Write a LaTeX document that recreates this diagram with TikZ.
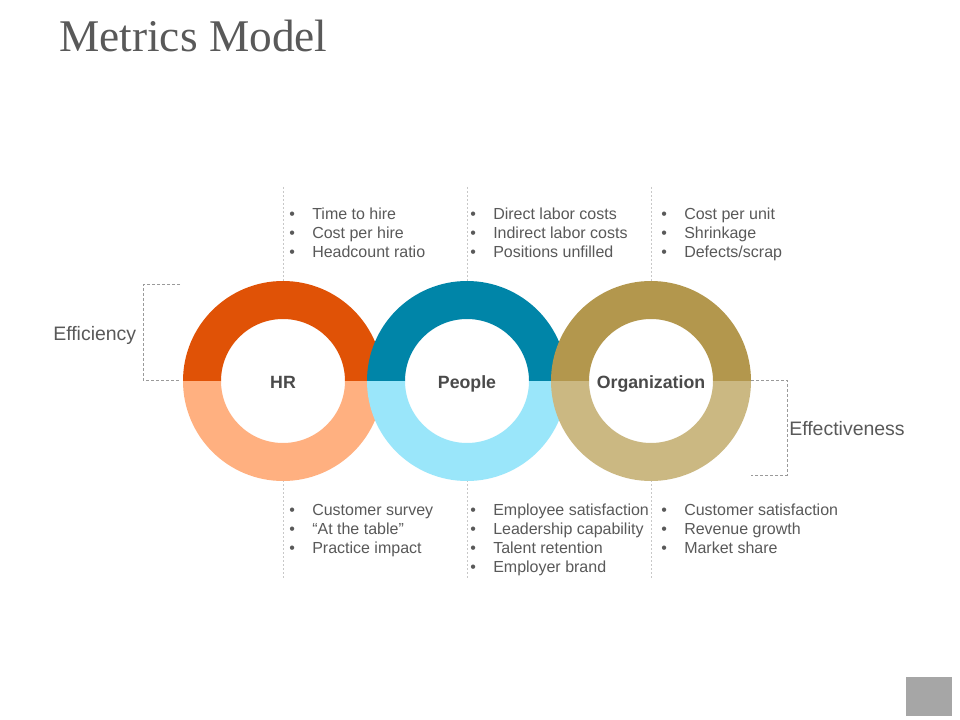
\documentclass[tikz,border=0pt]{standalone}
\usepackage{fontspec}
\setmainfont{Liberation Sans}
\newfontfamily\titlefont{Liberation Serif}
\definecolor{textgrey}{HTML}{595959}
\definecolor{labelgrey}{HTML}{4A4A4A}
\definecolor{bracketgrey}{HTML}{9A9A9A}
\definecolor{guidegrey}{HTML}{C8C8C8}
\definecolor{hrdark}{HTML}{E05206}
\definecolor{hrlight}{HTML}{FFB080}
\definecolor{pdark}{HTML}{0085A8}
\definecolor{plight}{HTML}{9AE6FA}
\definecolor{odark}{HTML}{B3974D}
\definecolor{olight}{HTML}{CBB882}
\definecolor{squaregrey}{HTML}{A6A6A6}
\tikzset{
  txt/.style={text=textgrey, inner sep=0pt, font=\fontsize{12}{14}\selectfont},
  item/.style={txt, anchor=base west},
  ringlabel/.style={inner sep=0pt, anchor=base, text=labelgrey, font=\bfseries\fontsize{13.3}{15}\selectfont},
  side/.style={text=textgrey, inner sep=0pt, anchor=base west, font=\fontsize{14.6}{17}\selectfont},
  bracket/.style={draw=bracketgrey, line width=0.75pt, dash pattern=on 2.25pt off 1.5pt},
  guide/.style={draw=guidegrey, line width=0.75pt, dash pattern=on 1.5pt off 1.5pt},
}
\newcommand\bul[1]{\makebox[0pt]{\textbullet}\hspace{15pt}#1}
\begin{document}
\begin{tikzpicture}[x=0.75pt,y=-0.75pt]
\useasboundingbox[fill=white] (0,0) rectangle (960,720);

% title
\node[anchor=base west, inner sep=0pt, text=textgrey, font=\titlefont\fontsize{34}{40}\selectfont] (title) at (59,52) {Metrics Model};

% guide lines
\foreach \gx [count=\k] in {283,467,651} {
  \coordinate (gt\k) at (\gx,187);
  \coordinate (ga\k) at (\gx,282);
  \coordinate (gb\k) at (\gx,480);
  \coordinate (ge\k) at (\gx,578);
  \draw[guide] (gt\k) -- (ga\k);
  \draw[guide] (gb\k) -- (ge\k);
}

% brackets
\coordinate (ea) at (180,285);
\coordinate (eb) at (143,285);
\coordinate (ec) at (143,380);
\coordinate (ed) at (180,380);
\draw[bracket] (ea) -- (eb) -- (ec) -- (ed);
\coordinate (fa) at (751,380);
\coordinate (fb) at (787,380);
\coordinate (fc) at (787,475);
\coordinate (fd) at (751,475);
\draw[bracket] (fa) -- (fb) -- (fc) -- (fd);

% rings
\foreach \cx/\ct/\cb in {283/hrdark/hrlight, 467/pdark/plight, 651/odark/olight} {
  \fill[\ct] (\cx+100,381) arc[start angle=0,end angle=-180,radius=100]
     -- (\cx-62,381) arc[start angle=180,end angle=360,radius=62] -- cycle;
  \fill[\cb] (\cx+100,381) arc[start angle=0,end angle=180,radius=100]
     -- (\cx-62,381) arc[start angle=180,end angle=0,radius=62] -- cycle;
}

% ring labels
\node[ringlabel] (hr) at (283,388) {HR};
\node[ringlabel] (people) at (467,388) {People};
\node[ringlabel] (org) at (651,388) {Organization};

% side labels
\node[side] (efficiency) at (53,340) {Efficiency};
\node[side] (effectiveness) at (789,435) {Effectiveness};

% top lists
\foreach \t [count=\i] in {Time to hire, Cost per hire, Headcount ratio}
  \node[item] (hrt\i) at (292,201+19*\i) {\bul{\t}};
\foreach \t [count=\i] in {Direct labor costs, Indirect labor costs, Positions unfilled}
  \node[item] (pt\i) at (473,201+19*\i) {\bul{\t}};
\foreach \t [count=\i] in {Cost per unit, Shrinkage, Defects/scrap}
  \node[item] (ot\i) at (664,201+19*\i) {\bul{\t}};

% bottom lists
\foreach \t [count=\i] in {Customer survey, “At the table”, Practice impact}
  \node[item] (hrb\i) at (292,496+19*\i) {\bul{\t}};
\foreach \t [count=\i] in {Employee satisfaction, Leadership capability, Talent retention, Employer brand}
  \node[item] (pb\i) at (473,496+19*\i) {\bul{\t}};
\foreach \t [count=\i] in {Customer satisfaction, Revenue growth, Market share}
  \node[item] (ob\i) at (664,496+19*\i) {\bul{\t}};

% corner square
\fill[squaregrey] (906,677) rectangle (952,716);
\end{tikzpicture}
\end{document}
